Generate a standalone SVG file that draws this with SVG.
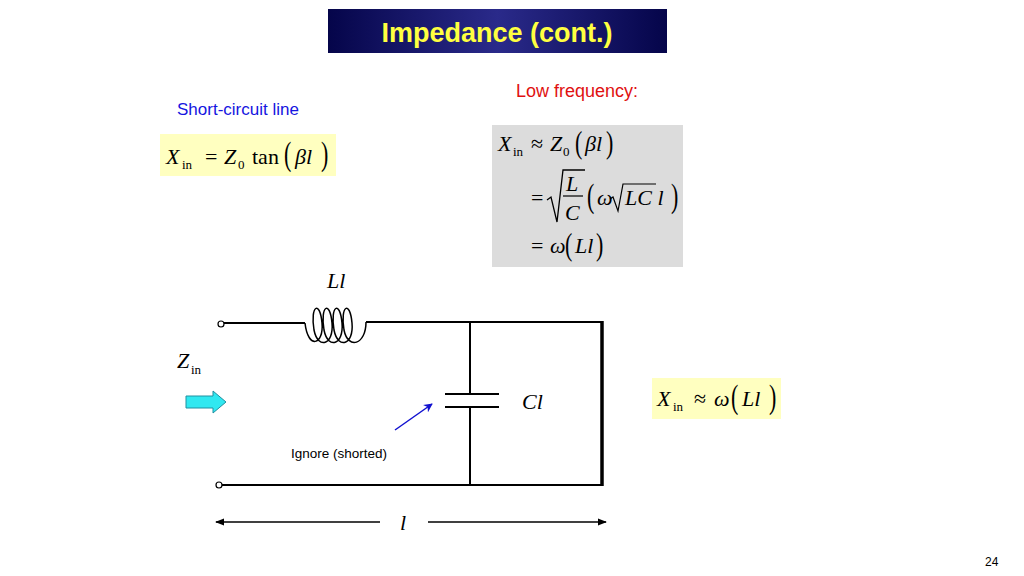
<svg xmlns="http://www.w3.org/2000/svg" width="1024" height="576" viewBox="0 0 1024 576">
<defs>
<linearGradient id="tg" x1="0" y1="0" x2="1" y2="0"><stop offset="0" stop-color="#05054a"/><stop offset="0.5" stop-color="#2a2a8a"/><stop offset="1" stop-color="#05054a"/></linearGradient>
<marker id="ah" viewBox="0 0 10 10" refX="9" refY="5" markerWidth="7" markerHeight="7" orient="auto-start-reverse"><path d="M0,1 L10,5 L0,9 z" fill="#000"/></marker>
<marker id="bh" viewBox="0 0 10 10" refX="9" refY="5" markerWidth="6" markerHeight="6" orient="auto"><path d="M0,0 L10,5 L0,10 L3,5 z" fill="#1010d0"/></marker>
</defs>
<style>
.m{font-family:"Liberation Serif",serif;font-style:italic;font-size:22px}
.r{font-family:"Liberation Serif",serif;font-size:22px}
.p{font-family:"Liberation Serif",serif;font-size:22px;fill:#000}
.s{font-family:"Liberation Serif",serif;font-size:13px}
.w{stroke:#000;stroke-width:2;fill:none}
.box{fill:#ffffc0}
</style>
<rect width="1024" height="576" fill="#fff"/>
<g id="title"><rect x="328" y="9" width="339" height="44" fill="url(#tg)"/>
<text x="497" y="42" text-anchor="middle" font-family="Liberation Sans,sans-serif" font-weight="bold" font-size="27" fill="#ffff40">Impedance (cont.)</text></g>
<g id="short"><text x="177" y="115" font-family="Liberation Sans,sans-serif" font-size="17" fill="#1515e0">Short-circuit line</text>
<rect class="box" x="160" y="134" width="176" height="42"/>
<text x="166" y="164" class="m">X</text><text x="182" y="169" class="s">in</text>
<text x="205" y="164" class="r">= </text><text x="224" y="164" class="m">Z</text><text x="238" y="169" class="s">0</text>
<text x="252" y="164" class="r">tan</text>
<text class="p" transform="translate(284,165) scale(1,1.5)">(</text><text x="295" y="164" class="m">βl</text><text class="p" transform="translate(321,165) scale(1,1.5)">)</text></g>
<g id="low"><text x="516" y="97" font-family="Liberation Sans,sans-serif" font-size="18" fill="#e01010">Low frequency:</text>
<rect x="492" y="125" width="191" height="142" fill="#dcdcdc"/>
<text x="498" y="151" class="m" font-size="20">X</text><text x="513" y="156" class="s">in</text>
<text x="531" y="151" class="r" font-size="20">≈</text><text x="550" y="151" class="m" font-size="20">Z</text><text x="563" y="156" class="s">0</text>
<text class="p" transform="translate(575,153) scale(1,1.4)">(</text><text x="585" y="151" class="m" font-size="20">βl</text><text class="p" transform="translate(606,153) scale(1,1.4)">)</text>
<text x="531" y="205" class="r" font-size="20">=</text>
<path d="M547,200 L551,197 L557,222 L563,170 L585,170" stroke="#000" stroke-width="1.3" fill="none"/>
<text x="566" y="191" class="m" font-size="20">L</text><line x1="563" y1="196" x2="583" y2="196" stroke="#000" stroke-width="1.2"/>
<text x="565" y="220" class="m" font-size="20">C</text>
<text class="p" transform="translate(587,207) scale(1,1.5)">(</text><text x="597" y="205" class="m" font-size="20">ω</text>
<path d="M610,199 L613,197 L618,211 L623,184 L656,184" stroke="#000" stroke-width="1.2" fill="none"/>
<text x="625" y="205" class="m" font-size="20">LC l</text><text class="p" transform="translate(671,207) scale(1,1.5)">)</text>
<text x="531" y="253" class="r" font-size="20">=</text><text x="550" y="253" class="m" font-size="20">ω</text>
<text class="p" transform="translate(565,255) scale(1,1.4)">(</text><text x="575" y="253" class="m" font-size="20">Ll</text><text class="p" transform="translate(596,255) scale(1,1.4)">)</text></g>
<g id="result"><rect class="box" x="652" y="378" width="129" height="41"/>
<text x="657" y="406" class="m">X</text><text x="673" y="411" class="s">in</text>
<text x="694" y="406" class="r">≈</text><text x="714" y="406" class="m">ω</text>
<text class="p" transform="translate(731,408) scale(1,1.5)">(</text><text x="742" y="406" class="m">Ll</text><text class="p" transform="translate(769,408) scale(1,1.5)">)</text></g>
<g id="labels">
<text x="327" y="288" class="m" font-size="20">Ll</text>
<text x="177" y="368" class="m" font-size="22">Z</text><text x="191" y="374" class="s">in</text>
<text x="522" y="409" class="m" font-size="20">Cl</text>
<text x="291" y="458" font-family="Liberation Sans,sans-serif" font-size="13.5">Ignore (shorted)</text>
<text x="400" y="530" class="m" font-size="20">l</text>
<text x="985" y="566" font-family="Liberation Sans,sans-serif" font-size="12">24</text></g>
<g id="circuit">
<circle cx="221" cy="324" r="3" fill="#fff" stroke="#000" stroke-width="1.2"/>
<circle cx="219" cy="485" r="3" fill="#fff" stroke="#000" stroke-width="1.2"/>
<path class="w" d="M224,323 L305,323"/>
<path stroke="#000" stroke-width="1.5" fill="none" d="M305,323 C308,350 324,345 322,323 C320,300 310,305 314,330 C318,350 334,345 332,323 C330,300 320,305 324,330 C328,350 344,345 342,323 C340,300 330,305 334,330 C338,350 354,345 352,323 C350,300 340,305 344,330 C348,350 366,345 366,322"/>
<path class="w" d="M366,322 L602,322"/>
<path class="w" d="M470,322 L470,394 M445,394 L499,394 M445,407 L499,407 M470,407 L470,485"/>
<path class="w" d="M222,485 L602,485"/>
<path stroke="#000" stroke-width="3.5" d="M602,321 L602,486"/>
<path d="M186,396 L213,396 L213,391 L226,402 L213,413 L213,408 L186,408 z" fill="#30e8f0" stroke="#2090a0" stroke-width="1"/>
<line x1="395" y1="430" x2="432" y2="404" stroke="#1010d0" stroke-width="1.5" marker-end="url(#bh)"/>
<line x1="380" y1="522" x2="216" y2="522" stroke="#000" stroke-width="1.3" marker-end="url(#ah)"/>
<line x1="428" y1="522" x2="606" y2="522" stroke="#000" stroke-width="1.3" marker-end="url(#ah)"/>
</g>
</svg>
